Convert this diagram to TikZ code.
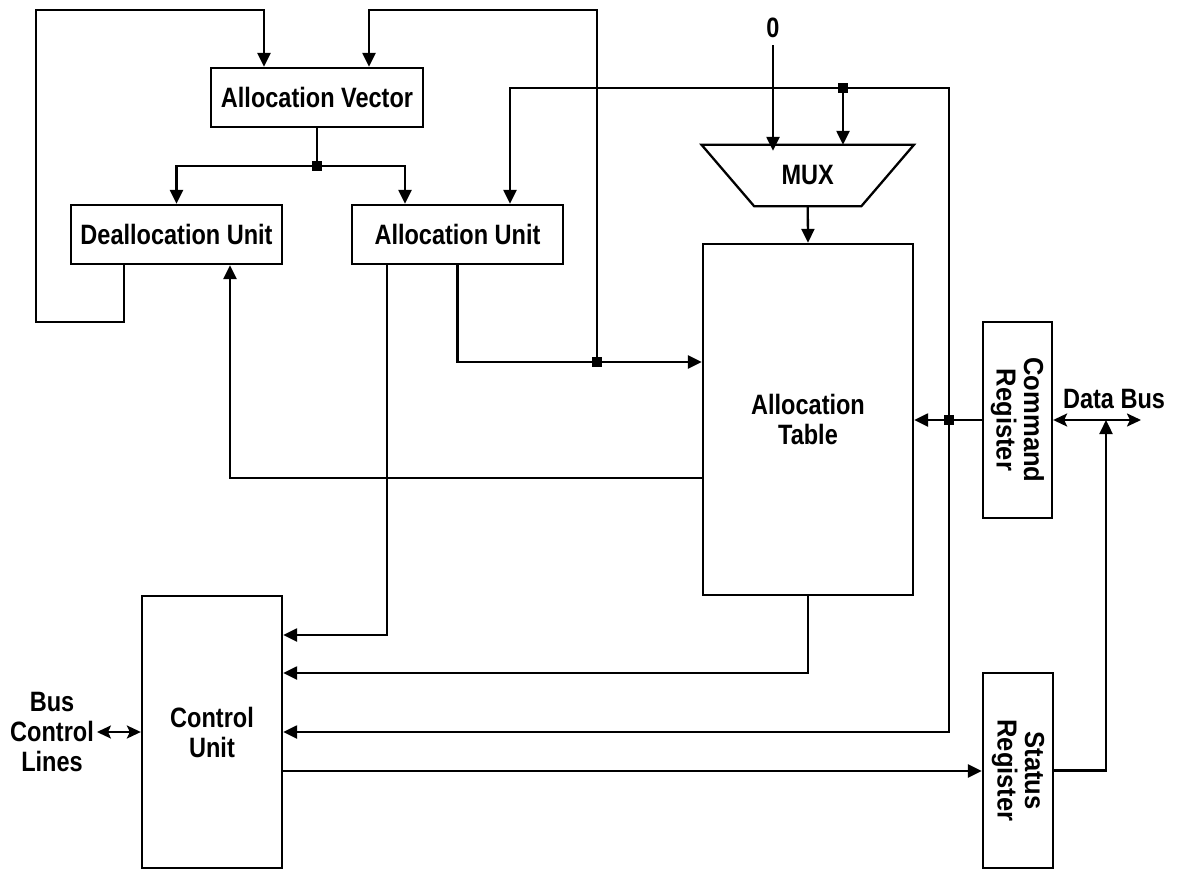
\documentclass[tikz,border=0pt]{standalone}
\usepackage{fontspec}
\newfontfamily\lblfont{Liberation Sans}[FakeStretch=0.84]
\newfontfamily\regfont{Liberation Sans}[FakeStretch=0.93]
\usetikzlibrary{arrows.meta}
\begin{document}
\begin{tikzpicture}[x=1pt,y=-1pt,line width=2.3pt,
  txt/.style={inner sep=0pt,align=center,font=\lblfont\bfseries\fontsize{28}{30}\selectfont},
  blk/.style={txt,draw,line width=2.3pt},
  regtxt/.style={inner sep=0pt,align=center,rotate=-90,font=\regfont\bfseries\fontsize{27.5}{27.5}\selectfont},
  arr/.style={-{Triangle[length=14pt,width=13pt]}},
  dbl/.style={{Stealth[length=14pt,width=13pt,inset=3pt]}-{Stealth[length=14pt,width=13pt,inset=3pt]}},
  junc/.style={fill,minimum size=10pt,inner sep=0pt}]
\useasboundingbox (0,0) rectangle (1177,869);

% blocks
\node[blk,minimum width=212pt,minimum height=59pt] (AV) at (317,97.5) {Allocation Vector};
\node[blk,minimum width=211pt,minimum height=59pt] (DU) at (176.5,234.5) {Deallocation Unit};
\node[blk,minimum width=211pt,minimum height=59pt] (AU) at (457.5,234.5) {Allocation Unit};
\node[blk,minimum width=210pt,minimum height=351pt] (AT) at (808,419.5) {Allocation\\Table};
\node[blk,minimum width=140pt,minimum height=272pt] (CU) at (212,732) {Control\\Unit};
\node[blk,minimum width=69pt,minimum height=196pt] (CR) at (1017.5,420) {};
\node[regtxt] (CRt) at (CR.center) {Command\\Register};
\node[blk,minimum width=70pt,minimum height=195pt] (SR) at (1018,770.5) {};
\node[regtxt] (SRt) at (SR.center) {Status\\Register};

% multiplexer
\node[txt,minimum width=210pt,minimum height=59pt] (mux) at (807.75,175.5) {MUX};
\draw[line join=miter] (mux.north west) -- (mux.north east)
  -- ([xshift=-52.5pt]mux.south east) -- ([xshift=52.5pt]mux.south west) -- cycle;

% free labels
\node[txt] (zero) at (773,28) {0};
\node[txt] (bcl) at (52,732) {Bus\\Control\\Lines};
\node[txt] (db) at (1114,399) {Data Bus};

% junctions
\node[junc] (j1) at (317,166) {};
\node[junc] (j3) at (597,362) {};
\node[junc] (j4) at (843,88) {};
\node[junc] (j5) at (949,420) {};
\coordinate (j6) at (1106,420);

% allocation vector fan-out
\draw (AV.south) -- (j1.center);
\draw[arr] (j1.center) -| (DU.north);
\draw[arr] (j1.center) -| ([xshift=-52.5pt]AU.north);

% deallocation feedback loop
\draw[arr] ([xshift=-52.5pt]DU.south) -- (124,322) -- (36,322) -- (36,10) -| ([xshift=-53pt]AV.north);

% allocation unit outputs
\draw[arr] (AU.south) |- (j3.center) -- (j3.center -| AT.west);
\draw[arr] (j3.center) -- (597,10) -| ([xshift=52pt]AV.north);
\draw[arr] ([xshift=-70.5pt]AU.south) |- ([yshift=97pt]CU.east);

% command register bus
\draw[arr] (CR.west) -- (CR.west -| AT.east);
\draw[arr] (j5.center) -- (949,88) -| ([xshift=52.5pt]AU.north);
\draw[arr] (j4.center) -- ([xshift=35.25pt]mux.north);
\draw[arr] (j5.center) |- (CU.east);

% multiplexer paths
\draw[arr] ([yshift=-6pt]zero.south) -- ([yshift=-6pt]zero.south |- mux.north);
\draw[arr] (mux.south) -- (AT.north);

% allocation table outputs
\draw[arr] ([yshift=-58.5pt]AT.west) -| ([xshift=53.5pt]DU.south);
\draw[arr] (AT.south) |- ([yshift=59pt]CU.east);

% control unit to status register to data bus
\draw[arr] ([yshift=-39pt]CU.east) -- ([yshift=-39pt]CU.east -| SR.west);
\draw[arr] (SR.east) -| (j6);
\draw[dbl] (CR.east) -- (1141,420);
\draw[dbl] ([xshift=2pt]bcl.east) -- (CU.west);
\end{tikzpicture}
\end{document}
